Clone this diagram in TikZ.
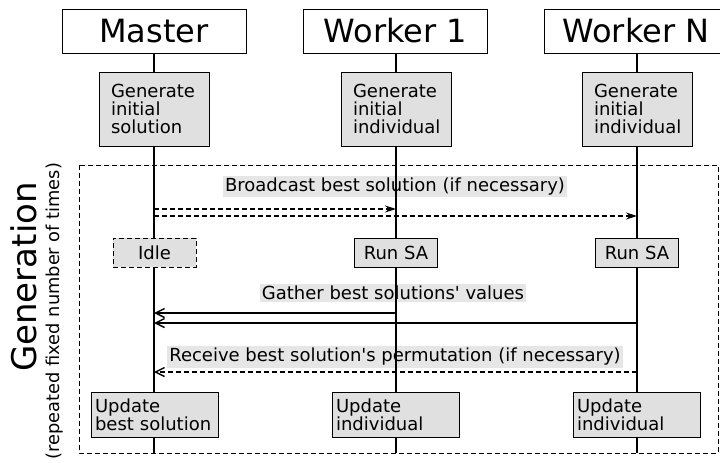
\documentclass[tikz,border=0pt]{standalone}
\usepackage{fontspec}
\setmainfont{DejaVu Sans}[Ligatures=TeXOff]
\usepackage{tikz}
\usetikzlibrary{arrows.meta, positioning}
\definecolor{boxgray}{RGB}{224,224,224}
\definecolor{lblgray}{RGB}{230,230,230}
\tikzset{
  header/.style={rectangle, draw=black, fill=white, minimum width=184pt,
    minimum height=44pt, inner sep=0pt, font=\fontsize{32}{36}\selectfont,
    line width=1pt},
  genbox/.style={rectangle, draw=black, fill=boxgray, text width=86pt,
    inner xsep=12pt, inner ysep=0pt, minimum height=74pt, align=left,
    font=\fontsize{18}{18}\selectfont, line width=1pt},
  updbox/.style={rectangle, draw=black, fill=boxgray, text width=119pt,
    inner xsep=4pt, inner ysep=0pt, minimum height=45pt, align=left,
    font=\fontsize{18}{18}\selectfont, line width=1pt},
  smallbox/.style={rectangle, draw=black, fill=boxgray, minimum width=83pt,
    minimum height=29pt, inner sep=0pt, font=\fontsize{18}{18}\selectfont,
    line width=1pt},
  lbl/.style={fill=lblgray, inner xsep=2pt, inner ysep=2pt,
    font=\fontsize{18}{18}\selectfont},
  life/.style={line width=1.1pt, color=black},
  frame/.style={line width=1pt, dash pattern=on 5pt off 3pt},
  bcast/.style={-{Stealth[length=11pt,width=7pt]}, line width=1.1pt,
    dash pattern=on 5pt off 3pt},
  gather/.style={-{Straight Barb[length=9pt,width=9pt,line width=1.4pt]},
    line width=1.1pt},
  recv/.style={-{Straight Barb[length=9pt,width=9pt,line width=1.4pt]},
    line width=1.1pt, dash pattern=on 5pt off 3pt}
}

\begin{document}
\begin{tikzpicture}[x=1pt, y=-1pt]
  \useasboundingbox (0,0) rectangle (720,463);

  % Process headers
  \node[header] (mh) at (154,31) {Master};
  \node[header] (w1h) at (395.5,31) {Worker 1};
  \node[header] (wnh) at (636,31) {Worker N};

  % Repeated part
  \draw[frame] (79,165) rectangle (718,453);
  \node[rotate=90, font=\fontsize{34}{40}\selectfont] (gen) at (24,277) {Generation};
  \node[rotate=90, font=\fontsize{17.8}{18}\selectfont] (rep) at (55,311) {(repeated fixed number of times)};

  % Message labels
  \node[lbl] (bcl) at (395,186.5) {Broadcast best solution (if necessary)};
  \node[lbl] (gal) at (393,293) {Gather best solutions' values};
  \node[lbl] (rcl) at (395,357) {Receive best solution's permutation (if necessary)};

  % Lifelines
  \coordinate (mend) at (154,453);
  \coordinate (w1end) at (396,453);
  \coordinate (wnend) at (637,453);
  \draw[life] (mh.south -| mend) -- (mend);
  \draw[life] (w1h.south -| w1end) -- (w1end);
  \draw[life] (wnh.south -| wnend) -- (wnend);

  % Initial step
  \node[genbox] (mgen) at (154,109) {Generate\\initial\\solution};
  \node[genbox] (w1gen) at (396,109) {Generate\\initial\\individual};
  \node[genbox] (wngen) at (637,109) {Generate\\initial\\individual};

  % Work inside a generation
  \node[smallbox, dash pattern=on 5pt off 3pt] (idle) at (154.5,252.5) {Idle};
  \node[smallbox] (w1sa) at (396,252.5) {Run SA};
  \node[smallbox] (wnsa) at (637,252.5) {Run SA};

  \node[updbox] (mupd) at (154.5,414.5) {Update\\best solution};
  \node[updbox] (w1upd) at (395.5,414.5) {Update\\individual};
  \node[updbox] (wnupd) at (636.5,414.5) {Update\\individual};

  % Messages
  \coordinate (b1) at (0,209);
  \coordinate (b2) at (0,216);
  \coordinate (g1) at (0,313);
  \coordinate (g2) at (0,323);
  \coordinate (r1) at (0,372);
  \draw[bcast] (mend |- b1) -- (w1end |- b1);
  \draw[bcast] (mend |- b2) -- (wnend |- b2);
  \draw[gather] (w1end |- g1) -- (mend |- g1);
  \draw[gather] (wnend |- g2) -- (mend |- g2);
  \draw[recv] (wnend |- r1) -- (mend |- r1);
\end{tikzpicture}
\end{document}
